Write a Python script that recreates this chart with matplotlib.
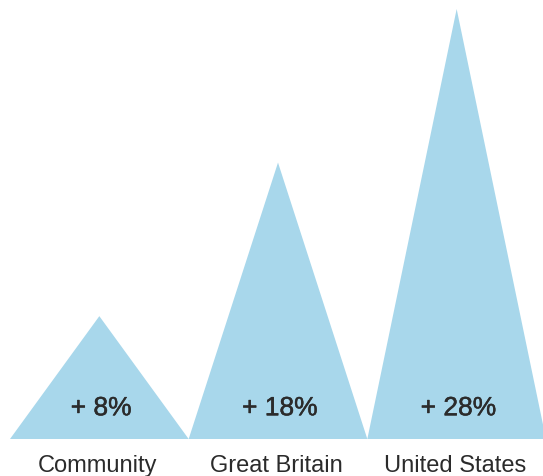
import matplotlib.pyplot as plt
import matplotlib.patheffects as pe
from matplotlib.patches import Polygon

countries = ['Community', 'Great Britain', 'United States']
growth = [8, 18, 28]
growth_labels = ['+ 8%', '+ 18%', '+ 28%']

blue = '#a8d7eb'
ink = '#2b2b2b'

fig = plt.figure(figsize=(5.43, 4.77), dpi=100)
# axes sized so each triangle base spans one unit of x
ax = fig.add_axes([10 / 543, 37 / 477, 536 / 543, 430 / 477])
ax.set_xlim(-0.5, 2.5)
ax.set_ylim(0, 28)
ax.axis('off')

# slightly heavier than regular weight
thick = [pe.withStroke(linewidth=0.35, foreground=ink)]

for i, (name, g, lab) in enumerate(zip(countries, growth, growth_labels)):
    tri = Polygon([(i - 0.5, 0), (i, g), (i + 0.5, 0)], closed=True,
                  facecolor=blue, edgecolor='none', clip_on=False)
    ax.add_patch(tri)
    ax.text(i + 0.01, 2.0, lab, ha='center', va='center', fontsize=19,
            family='Liberation Sans', color=ink, path_effects=thick)
    ax.text(i - 0.01, -1.7, name, ha='center', va='center', fontsize=17,
            family='Liberation Sans', color=ink)

fig.savefig('out.png', dpi=100)
